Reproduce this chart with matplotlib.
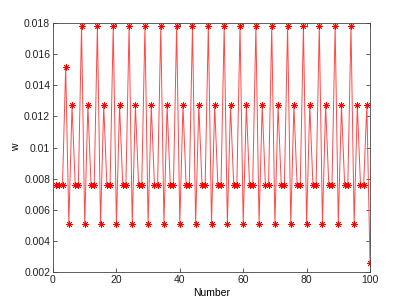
import numpy as np
from matplotlib import pyplot as plt

# sample number and weight values
number = np.arange(1, 101)
w = [0.0076, 0.0076, 0.0076, 0.0152,
     0.0051, 0.0127, 0.0076, 0.0076, 0.0178,
     0.0051, 0.0127, 0.0076, 0.0076, 0.0178,
     0.0051, 0.0127, 0.0076, 0.0076, 0.0178,
     0.0051, 0.0127, 0.0076, 0.0076, 0.0178,
     0.0051, 0.0127, 0.0076, 0.0076, 0.0178,
     0.0051, 0.0127, 0.0076, 0.0076, 0.0178,
     0.0051, 0.0127, 0.0076, 0.0076, 0.0178,
     0.0051, 0.0127, 0.0076, 0.0076, 0.0178,
     0.0051, 0.0127, 0.0076, 0.0076, 0.0178,
     0.0051, 0.0127, 0.0076, 0.0076, 0.0178,
     0.0051, 0.0127, 0.0076, 0.0076, 0.0178,
     0.0051, 0.0127, 0.0076, 0.0076, 0.0178,
     0.0051, 0.0127, 0.0076, 0.0076, 0.0178,
     0.0051, 0.0127, 0.0076, 0.0076, 0.0178,
     0.0051, 0.0127, 0.0076, 0.0076, 0.0178,
     0.0051, 0.0127, 0.0076, 0.0076, 0.0178,
     0.0051, 0.0127, 0.0076, 0.0076, 0.0178,
     0.0051, 0.0127, 0.0076, 0.0076, 0.0178,
     0.0051, 0.0127, 0.0076, 0.0076, 0.0127,
     0.0026]

xticks = [0, 20, 40, 60, 80, 100]
yticks = [0.002, 0.004, 0.006, 0.008, 0.01, 0.012, 0.014, 0.016, 0.018]
ylabels = ['0.002', '0.004', '0.006', '0.008', '0.01', '0.012', '0.014', '0.016', '0.018']

plt.rcParams['font.family'] = 'Liberation Sans'
plt.rcParams['font.size'] = 7.5

fig = plt.figure(figsize=(4.09, 3.07), dpi=100)
ax = fig.add_axes([53 / 409, 1 - 272 / 307, (370 - 53) / 409, (272 - 23) / 307])

ax.plot(number, w, color='#ff4848', lw=0.7, marker=(8, 2, 0), ms=4.5,
        mec='red', mew=0.6)

ax.set_xlim(0, 100)
ax.set_ylim(0.002, 0.018)
ax.set_xticks(xticks)
ax.set_yticks(yticks)
ax.set_yticklabels(ylabels)
ax.tick_params(direction='in', top=True, right=True, length=3, width=0.5,
               pad=2, colors='#222222')
for s in ax.spines.values():
    s.set_linewidth(0.6)
    s.set_color('#444444')
ax.set_xlabel('Number', labelpad=2)
ax.set_ylabel('w', labelpad=2)

plt.savefig('out.png', dpi=100)
